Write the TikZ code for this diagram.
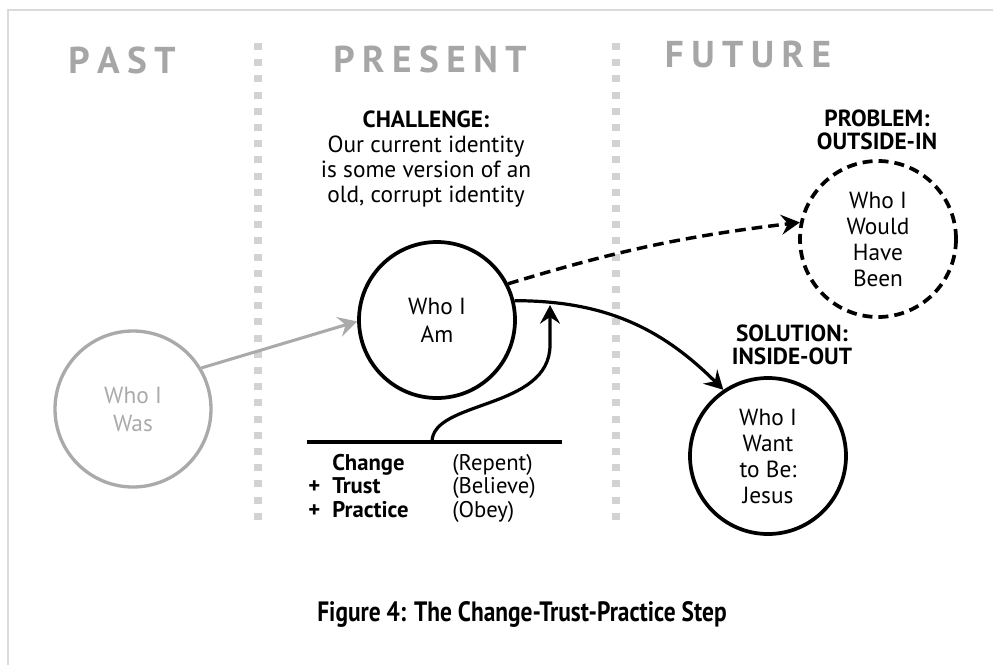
\documentclass[tikz,border=0pt]{standalone}
\usepackage{fontspec}
\usepackage{graphicx}
\setmainfont{PT Sans}
\usetikzlibrary{arrows.meta}
\definecolor{hdrgray}{HTML}{A6A6A6}
\definecolor{wasgray}{HTML}{AAAAAA}
\definecolor{framegray}{HTML}{DADADA}
\definecolor{dotgray}{HTML}{D2D2D2}
\newcommand{\hsp}{\hspace{0.2em}}
\begin{document}
\begin{tikzpicture}[x=0.75pt,y=-0.75pt,
  circ/.style={circle,draw,line width=2.8pt,minimum size=117pt,inner sep=0pt,align=center},
  twoline/.style={font=\fontsize{17.5}{21}\selectfont},
  fourline/.style={font=\fontsize{17.5}{19.5}\selectfont},
  hdr/.style={anchor=base,inner sep=0pt,text=hdrgray,font=\fontsize{28}{30}\selectfont\bfseries},
  lbl/.style={align=center,inner sep=0pt,font=\fontsize{17.5}{17.25}\selectfont\bfseries},
  lst/.style={anchor=base west,inner sep=0pt,font=\fontsize{17}{18}\selectfont},
  lstb/.style={lst,font=\fontsize{17}{18}\selectfont\bfseries},
  tipstyle/.style={-{Stealth[length=14pt,width=15pt,inset=5pt]}},
  garrow/.style={tipstyle,draw=wasgray,line width=2.3pt},
  darrow/.style={tipstyle,line width=2.6pt,dash pattern=on 8pt off 4.5pt},
  sarrow/.style={tipstyle,line width=2.4pt},
  dot/.style={fill=dotgray}
]
\useasboundingbox (0,0) rectangle (993,665);
% frame
\draw[framegray,line width=1.6pt] (8,665) -- (8,10) -- (993,10);
% separators
\foreach \i in {0,...,29}{
  \fill[dot] (253.5,{43+16.2*\i}) rectangle ++(8,7);
  \fill[dot] (612,{43+16.2*\i}) rectangle ++(8,7);
}
% headers
\node[hdr] (past) at (122,73) {P\hsp A\hsp S\hsp T};
\node[hdr] (present) at (430,72) {P\hsp R\hsp E\hsp S\hsp E\hsp N\hsp T};
\node[hdr] (future) at (748,67) {F\hsp U\hsp T\hsp U\hsp R\hsp E};
% labels
\node[align=center,inner sep=0pt,font=\fontsize{17.5}{18.75}\selectfont] (challenge) at (426,159.5)
  {\textbf{CHALLENGE:}\\Our current identity\\is some version of an\\old, corrupt identity};
\node[lbl] (problem) at (877,130) {PROBLEM:\\OUTSIDE-IN};
\node[lbl] (solution) at (792,345) {SOLUTION:\\INSIDE-OUT};
% circles
\node[circ,twoline,draw=wasgray,text=wasgray,line width=2.5pt] (was) at (133,409) {Who I\\Was};
\node[circ,twoline] (am) at (437,320) {Who I\\Am};
\node[circ,fourline,dash pattern=on 7.5pt off 4.5pt] (would) at (878,239) {Who I\\Would\\Have\\Been};
\node[circ,fourline] (want) at (768,456) {Who I\\Want\\to Be:\\Jesus};
% connectors
\draw[garrow] (was.31) -- (am.181);
\draw[darrow] (am.27) to[bend left=5] (would.168);
\draw[sarrow] (am.14) to[out=0,in=135] (want.124);
% base line and upward arrow
\coordinate (barL) at (307,442);
\coordinate (barR) at (562,442);
\coordinate (base) at (432,442);
\coordinate (tip) at (550,305);
\draw[line width=2.6pt] (barL) -- (barR);
\draw[sarrow] (base) .. controls (432,400) and (550,410) .. (550,345) -- (tip);
% list
\node[lstb] (chg) at (332,470) {Change};
\node[lstb] (plusa) at (308,493) {+};
\node[lstb] (trust) at (332,493) {Trust};
\node[lstb] (plusb) at (308,517) {+};
\node[lstb] (prac) at (332,517) {Practice};
\node[lst] (rep) at (452,470) {(Repent)};
\node[lst] (bel) at (452,493) {(Believe)};
\node[lst] (obey) at (452,517) {(Obey)};
% caption
\node[anchor=base,inner sep=0pt,font=\fontsize{21}{23}\selectfont\bfseries] (caption) at (522,621)
  {\resizebox{307pt}{\height}{Figure 4: The Change-Trust-Practice Step}};
\end{tikzpicture}
\end{document}
